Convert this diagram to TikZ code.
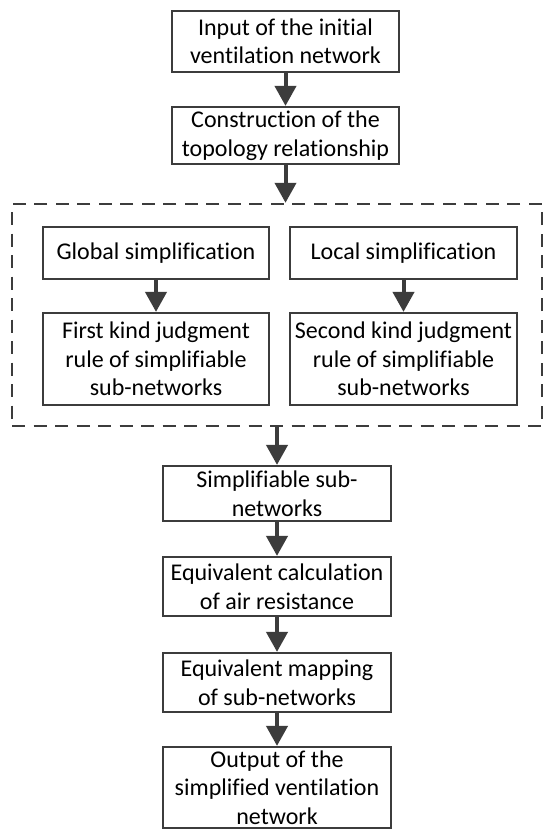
\documentclass[tikz,border=0pt]{standalone}
\usepackage{fontspec}
\setmainfont{Carlito}[Ligatures={NoCommon}]
\usetikzlibrary{arrows.meta}
\definecolor{dk}{HTML}{3C3C3C}
\begin{document}
\begin{tikzpicture}[x=1pt,y=-1pt,
  box/.style={draw=dk,line width=2.2pt,rectangle,inner sep=0pt,align=center,
    font=\fontsize{24}{28.5}\selectfont,text=black},
  frame/.style={draw=dk,line width=2.4pt,rectangle,inner sep=0pt,dash pattern=on 13pt off 8.5pt},
  flow/.style={draw=dk,line width=4pt,-{Triangle[width=21pt,length=20pt]},fill=dk}]
\useasboundingbox (0,0) rectangle (550,838);
\fill[white] (0,0) rectangle (550,838);
\node[box,minimum width=227pt,minimum height=61pt] (b1) at (285.5,41.5) {Input of the initial\\ventilation network};
\node[box,minimum width=227pt,minimum height=57pt] (b2) at (285.5,135.5) {Construction of the\\topology relationship};
\node[frame,minimum width=530pt,minimum height=222pt] (fr) at (277,315) {};
\node[box,minimum width=226pt,minimum height=52pt] (gl) at (156,253) {Global simplification};
\node[box,minimum width=227pt,minimum height=52pt] (lo) at (403.5,253) {Local simplification};
\node[box,minimum width=226pt,minimum height=92pt] (fk) at (156,359) {First kind judgment\\rule of simplifiable\\sub-networks};
\node[box,minimum width=227pt,minimum height=92pt] (sk) at (403.5,359) {Second kind judgment\\rule of simplifiable\\sub-networks};
\node[box,minimum width=228pt,minimum height=55pt] (sn) at (277,493.5) {Simplifiable sub-\\networks};
\node[box,minimum width=228pt,minimum height=59pt] (ec) at (277,586.5) {Equivalent calculation\\of air resistance};
\node[box,minimum width=228pt,minimum height=59pt] (em) at (277,682.5) {Equivalent mapping\\of sub-networks};
\node[box,minimum width=228pt,minimum height=81pt] (ou) at (277,787.5) {Output of the\\simplified ventilation\\network};
\coordinate (ft) at (b2.south |- fr.north);
\draw[flow] (b1) -- (b2);
\draw[flow] (b2) -- (ft);
\draw[flow] (gl) -- (fk);
\draw[flow] (lo) -- (sk);
\draw[flow] (fr.south) -- (sn);
\draw[flow] (sn) -- (ec);
\draw[flow] (ec) -- (em);
\draw[flow] (em) -- (ou);
\end{tikzpicture}
\end{document}
